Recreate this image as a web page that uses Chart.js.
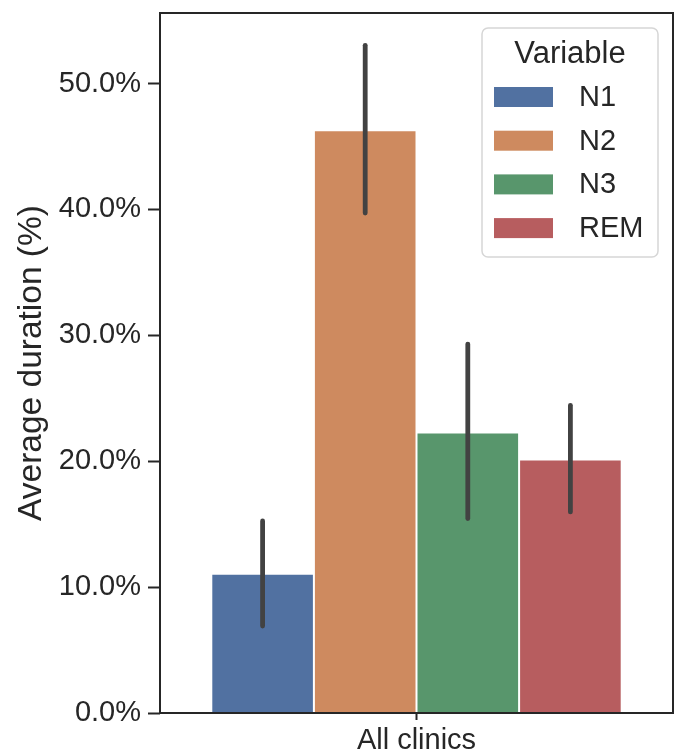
<!DOCTYPE html>
<html>
<head>
<meta charset="utf-8">
<script src="https://cdn.jsdelivr.net/npm/chart.js@4.4.1/dist/chart.umd.min.js"></script>
<style>
  html, body { margin: 0; padding: 0; background: #fff; }
  #wrap { width: 680px; height: 755px; position: relative; }
</style>
</head>
<body>
<div id="wrap"><canvas id="myChart" width="680" height="755"></canvas></div>
<script>
	// data
	var categories = ['All clinics'];
	var stages = ['N1', 'N2', 'N3', 'REM'];
	var means = [11.07, 46.28, 22.27, 20.13];
	var errLow = [6.91, 39.71, 15.44, 15.97];
	var errHigh = [15.25, 53.03, 29.3, 24.44];
	var colors = ['#5171a1', '#ce8a5f', '#58966c', '#b75d5f'];
	var yTicks = [0, 10, 20, 30, 40, 50];

	var fontFam = '"Liberation Sans", Arial, sans-serif';
	var ink = '#262626';

	var datasets = [];
	for (var i = 0; i < stages.length; i++) {
		datasets.push({
			label: stages[i],
			data: [means[i]],
			backgroundColor: colors[i],
			borderColor: '#ffffff',
			borderWidth: 1,
			errLo: [errLow[i]],
			errHi: [errHigh[i]]
		});
	}

	// spines + error bars + legend drawn on top
	var extras = {
		id: 'extras',
		afterDatasetsDraw: function(chart) {
			var ctx = chart.ctx;
			var ys = chart.scales.y;
			ctx.save();
			ctx.strokeStyle = '#424242';
			ctx.lineWidth = 4.8;
			ctx.lineCap = 'round';
			chart.data.datasets.forEach(function(ds, di) {
				var meta = chart.getDatasetMeta(di);
				meta.data.forEach(function(bar, j) {
					ctx.beginPath();
					ctx.moveTo(bar.x, ys.getPixelForValue(ds.errLo[j]));
					ctx.lineTo(bar.x, ys.getPixelForValue(ds.errHi[j]));
					ctx.stroke();
				});
			});
			ctx.restore();
		},
		afterDraw: function(chart) {
			var ctx = chart.ctx;
			var a = chart.chartArea;
			ctx.save();
			ctx.strokeStyle = ink;
			ctx.lineWidth = 2;
			ctx.strokeRect(a.left, a.top, a.right - a.left, a.bottom - a.top);

			// category tick mark under the axis
			var xs = chart.scales.x;
			categories.forEach(function(c, k) {
				var px = xs.getPixelForValue(k);
				ctx.beginPath();
				ctx.moveTo(px, a.bottom);
				ctx.lineTo(px, a.bottom + 7);
				ctx.stroke();
			});

			// legend box
			var lx = 482, ly = 28, lw = 176, lh = 229, r = 6;
			ctx.fillStyle = 'rgba(255,255,255,0.8)';
			ctx.strokeStyle = '#d6d6d6';
			ctx.lineWidth = 1.5;
			ctx.beginPath();
			ctx.moveTo(lx + r, ly);
			ctx.arcTo(lx + lw, ly, lx + lw, ly + lh, r);
			ctx.arcTo(lx + lw, ly + lh, lx, ly + lh, r);
			ctx.arcTo(lx, ly + lh, lx, ly, r);
			ctx.arcTo(lx, ly, lx + lw, ly, r);
			ctx.closePath();
			ctx.fill();
			ctx.stroke();

			ctx.fillStyle = ink;
			ctx.textBaseline = 'middle';
			ctx.textAlign = 'center';
			ctx.font = '31px ' + fontFam;
			ctx.fillText('Variable', 570, 54);
			ctx.textAlign = 'left';
			ctx.font = '29px ' + fontFam;
			chart.data.datasets.forEach(function(ds, i) {
				var cy = 97 + i * 43.7;
				ctx.fillStyle = ds.backgroundColor;
				ctx.fillRect(494, cy - 10, 59, 20);
				ctx.fillStyle = ink;
				ctx.fillText(ds.label, 579, cy + 1);
			});
			ctx.restore();
		}
	};

	var ctx = document.getElementById('myChart').getContext('2d');
	var myChart = new Chart(ctx, {
		type: 'bar',
		data: { labels: categories, datasets: datasets },
		options: {
			responsive: false,
			animation: false,
			layout: { padding: { top: 13, right: 7, left: 0, bottom: 0 } },
			datasets: { bar: { categoryPercentage: 0.8, barPercentage: 1.0 } },
			plugins: { legend: { display: false }, tooltip: { enabled: false } },
			scales: {
				x: {
					grid: { display: false },
					border: { display: false },
					ticks: { color: ink, font: { family: fontFam, size: 29 }, padding: 3 },
					afterFit: function(s) { s.height = 42; s.paddingLeft = 0; s.paddingRight = 0; }
				},
				y: {
					min: 0,
					max: 55.6,
					grid: { display: true, drawOnChartArea: false, tickLength: 12, tickColor: ink, tickWidth: 2 },
					border: { display: false },
					afterBuildTicks: function(s) {
						s.ticks = yTicks.map(function(v) { return { value: v }; });
					},
					ticks: {
						color: ink,
						font: { family: fontFam, size: 29 },
						padding: 7,
						callback: function(v) { return v.toFixed(1) + '%'; }
					},
					title: {
						display: true,
						text: 'Average duration (%)',
						color: ink,
						font: { family: fontFam, size: 33.5 },
						padding: { top: 12, bottom: 0 }
					},
					afterFit: function(s) { s.width = 160; s.paddingTop = 0; s.paddingBottom = 0; }
				}
			}
		},
		plugins: [extras]
	});
</script>
</body>
</html>
